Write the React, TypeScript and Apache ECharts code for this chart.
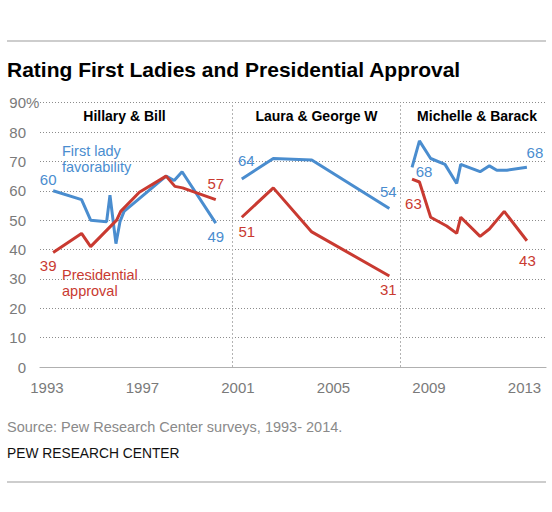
import React, { useEffect, useRef } from "react";
import * as echarts from "echarts";

// ---------- data ----------
const yearTicks = [1993, 1997, 2001, 2005, 2009, 2013];
const eraBreaks = [2000.77, 2007.8];
const eraTitles = ["Hillary & Bill", "Laura & George W", "Michelle & Barack"];

const clintonFavYears = [1993.26, 1994.45, 1994.83, 1995.5, 1995.64, 1995.89, 1996.06, 1996.23, 1997.99, 1998.33, 1998.66, 2000.07];
const hillaryFavorability = [60, 57, 50, 49.5, 58.5, 42, 49.5, 53, 65, 63.5, 66.5, 49];
const clintonApprovalYears = [1993.26, 1994.45, 1994.83, 1995.92, 1996.09, 1996.87, 1997.99, 1998.36, 1998.68, 2000.07];
const billApproval = [39, 45.5, 41, 50, 53, 59.5, 65, 61.5, 61, 57];

const bushYears = [2001.16, 2002.48, 2004.09, 2007.34];
const lauraFavorability = [64, 71, 70.5, 54];
const georgeApproval = [51, 61, 46, 31];

const obamaFavYears = [2008.29, 2008.6, 2009.07, 2009.67, 2010.16, 2010.33, 2011.14, 2011.53, 2011.84, 2012.26, 2013.1];
const michelleFavorability = [68, 77, 71, 69, 62.5, 69, 66.5, 68.5, 67, 67, 68];
const obamaApprovalYears = [2008.29, 2008.6, 2009.07, 2009.74, 2010.16, 2010.33, 2011.14, 2011.53, 2012.15, 2013.1];
const barackApproval = [64, 63, 51, 48, 45.5, 51, 44.5, 47, 53, 43];

// ---------- style ----------
const BLUE = "#4a8dcf";
const RED = "#c93a31";
const FONT = '"Liberation Sans", Arial, sans-serif';
const TICK = "#7a7a7a";

type LabelSpec = { i: number; dx: number; dy: number };
const lines: { name: string; years: number[]; values: number[]; color: string; labels: LabelSpec[] }[] = [
  { name: "Hillary", years: clintonFavYears, values: hillaryFavorability, color: BLUE, labels: [{ i: 0, dx: -5, dy: -11.5 }, { i: 11, dx: 0, dy: 13 }] },
  { name: "Bill", years: clintonApprovalYears, values: billApproval, color: RED, labels: [{ i: 0, dx: -5, dy: 13 }, { i: 9, dx: 0, dy: -16 }] },
  { name: "Laura", years: bushYears, values: lauraFavorability, color: BLUE, labels: [{ i: 0, dx: 4.5, dy: -19 }, { i: 3, dx: -1, dy: -16.5 }] },
  { name: "George W", years: bushYears, values: georgeApproval, color: RED, labels: [{ i: 0, dx: 5, dy: 14 }, { i: 3, dx: -1, dy: 14 }] },
  { name: "Michelle", years: obamaFavYears, values: michelleFavorability, color: BLUE, labels: [{ i: 0, dx: 12, dy: 4 }, { i: 10, dx: 8, dy: -15 }] },
  { name: "Barack", years: obamaApprovalYears, values: barackApproval, color: RED, labels: [{ i: 1, dx: -6, dy: 21.5 }, { i: 9, dx: 0.5, dy: 20 }] },
];

function buildOption(): any {
  const series: any[] = lines.map((s, k) => ({
    name: s.name,
    type: "line",
    data: s.years.map((y, i) => [y, s.values[i]]),
    symbol: "none",
    lineStyle: { color: s.color, width: 3 },
    itemStyle: { color: s.color },
    z: 3,
    markPoint: {
      symbol: "circle",
      symbolSize: 1,
      itemStyle: { color: "rgba(0,0,0,0)" },
      silent: true,
      label: {
        show: true,
        position: "inside",
        color: s.color,
        fontFamily: FONT,
        fontSize: 15,
        formatter: (p: any) => String(Math.round(p.value)),
      },
      data: s.labels.map((l) => ({
        coord: [s.years[l.i], s.values[l.i]],
        value: s.values[l.i],
        label: { offset: [l.dx, l.dy] },
      })),
    },
    markLine:
      k === 0
        ? {
            silent: true,
            symbol: ["none", "none"],
            label: { show: false },
            lineStyle: { type: [2, 2], color: "#b3b3b3", width: 1 },
            data: eraBreaks.map((x) => ({ xAxis: x })),
          }
        : undefined,
  }));

  const headerX = [124.5, 316.5, 477];
  const graphic: any[] = [
    { type: "line", shape: { x1: 7, y1: 41, x2: 546, y2: 41 }, style: { stroke: "#bdbdbd", lineWidth: 1.5 } },
    {
      type: "text", x: 7, y: 69,
      style: { text: "Rating First Ladies and Presidential Approval", font: `bold 21px ${FONT}`, fill: "#000", verticalAlign: "middle" },
    },
    ...eraTitles.map((t, i) => ({
      type: "text", x: headerX[i], y: 116,
      style: { text: t, font: `bold 14px ${FONT}`, fill: "#000", align: "center", verticalAlign: "middle" },
    })),
    { type: "text", x: 26, y: 102.7, style: { text: "%", font: `15px ${FONT}`, fill: TICK, verticalAlign: "middle" } },
    {
      type: "text", x: 62, y: 158.7,
      style: { text: "First lady\nfavorability", font: `14.5px ${FONT}`, lineHeight: 16, fill: BLUE, verticalAlign: "middle" },
    },
    {
      type: "text", x: 62, y: 282.5,
      style: { text: "Presidential\napproval", font: `14.5px ${FONT}`, lineHeight: 16, fill: RED, verticalAlign: "middle" },
    },
    {
      type: "text", x: 7, y: 427,
      style: { text: "Source: Pew Research Center surveys, 1993- 2014.", font: `14.5px ${FONT}`, fill: "#8a8a8a", verticalAlign: "middle" },
    },
    { type: "text", x: 7, y: 453, style: { text: "PEW RESEARCH CENTER", font: `13.8px ${FONT}`, fill: "#111", verticalAlign: "middle" } },
    { type: "line", shape: { x1: 7, y1: 482, x2: 546, y2: 482 }, style: { stroke: "#bdbdbd", lineWidth: 1.5 } },
  ];

  return {
    animation: false,
    backgroundColor: "#fff",
    grid: { left: 40, right: 6, top: 102.7, bottom: 145 },
    xAxis: {
      type: "value",
      min: 1992.71,
      max: 2013.9,
      axisLine: { show: true, lineStyle: { color: "#b0b0b0", width: 1.2 } },
      axisTick: { show: false },
      splitLine: { show: false },
      axisLabel: {
        customValues: yearTicks,
        margin: 13,
        color: TICK,
        fontFamily: FONT,
        fontSize: 15,
        formatter: (v: number) => String(Math.round(v)),
      },
    },
    yAxis: {
      type: "value",
      min: 0,
      max: 90,
      interval: 10,
      axisLine: { show: false },
      axisTick: { show: false },
      axisLabel: { margin: 14, color: TICK, fontFamily: FONT, fontSize: 15 },
      splitLine: { show: true, lineStyle: { type: [1, 2], color: "#8c8c8c", width: 1 } },
    },
    series,
    graphic,
  };
}

export default function App() {
  const ref = useRef<HTMLDivElement>(null);
  useEffect(() => {
    if (!ref.current) return;
    const chart = echarts.init(ref.current, null, { renderer: "svg" });
    chart.setOption(buildOption());
    return () => chart.dispose();
  }, []);
  return (
    <div
      ref={ref}
      style={{ position: "fixed", left: 0, top: 0, width: 552, height: 512, background: "#fff" }}
    />
  );
}
